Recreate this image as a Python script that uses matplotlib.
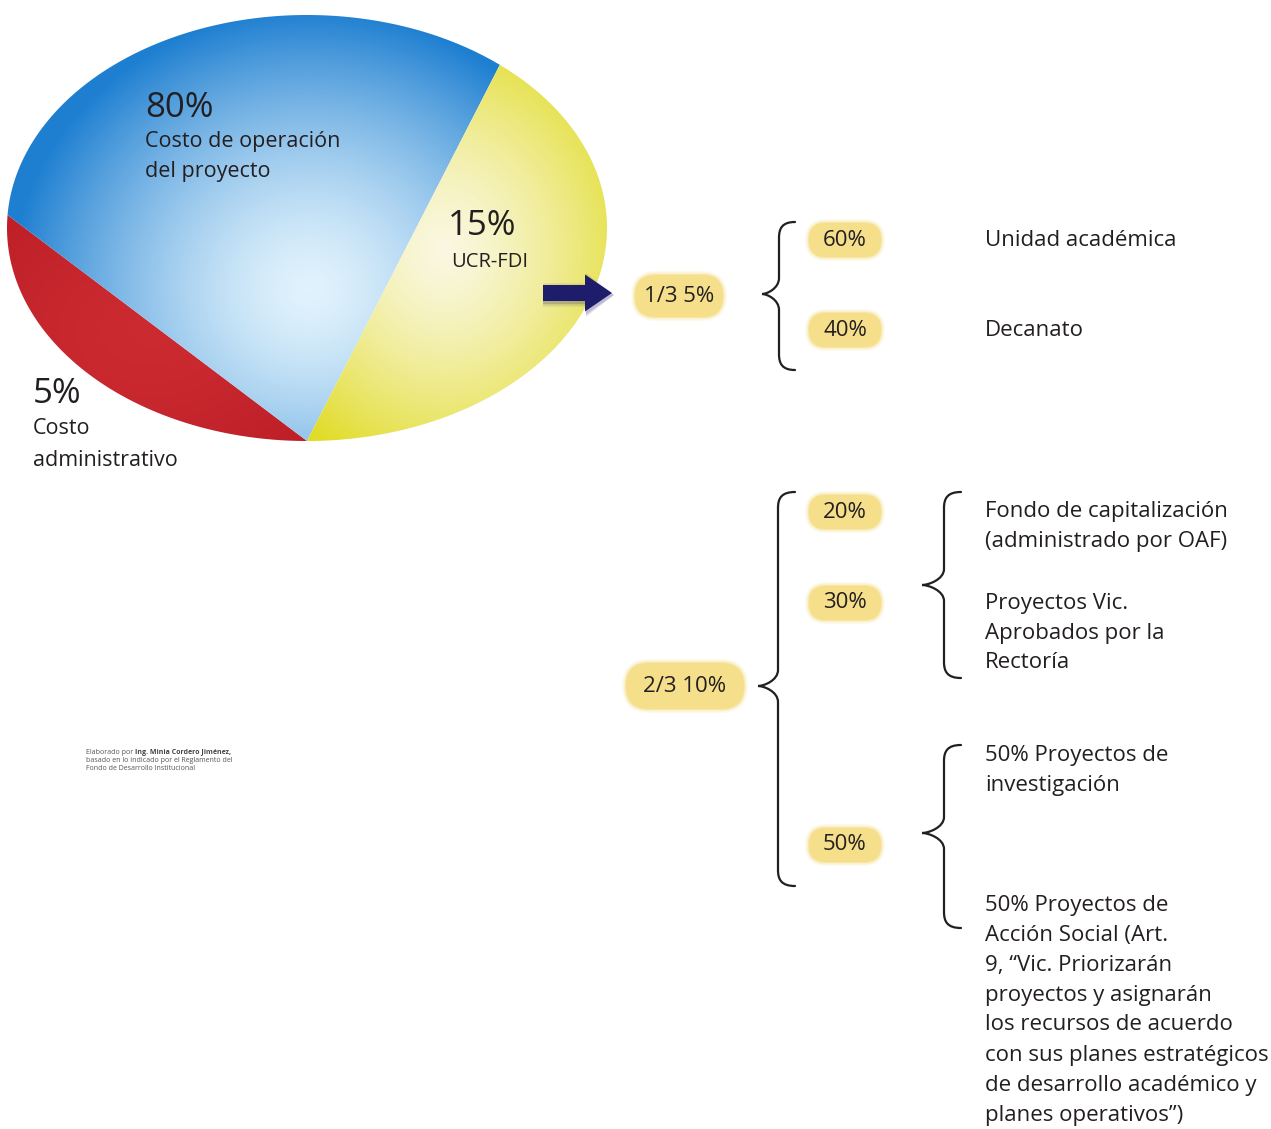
import numpy as np
import matplotlib
matplotlib.use('Agg')
import matplotlib.pyplot as plt
from matplotlib.patches import Polygon, FancyBboxPatch, FancyArrow, PathPatch
from matplotlib.path import Path

# ---------------- data ----------------
pie_values = [5, 80, 15]
pie_pct_labels = ['5%', '80%', '15%']
pie_names = [['Costo', 'administrativo'],
             ['Costo de operación', 'del proyecto'],
             ['UCR-FDI']]
branch_labels = ['1/3 5%', '2/3 10%']
sub1_pcts = ['60%', '40%']
sub1_names = [['Unidad académica'], ['Decanato']]
sub2_pcts = ['20%', '30%', '50%']
sub2a_names = [['Fondo de capitalización', '(administrado por OAF)'],
               ['Proyectos Vic.', 'Aprobados por la', 'Rectoría']]
sub2b_names = [['50% Proyectos de', 'investigación'],
               ['50% Proyectos de', 'Acción Social (Art.', '9, “Vic. Priorizarán',
                'proyectos y asignarán', 'los recursos de acuerdo',
                'con sus planes estratégicos', 'de desarrollo académico y',
                'planes operativos”)']]
note_prefix = 'Elaborado por '
note_author = 'Ing. Minia Cordero Jiménez,'
note_lines = ['basado en lo indicado por el Reglamento del',
              'Fondo de Desarrollo Institucional']

FONT = 'Open Sans'
plt.rcParams['font.family'] = [FONT, 'DejaVu Sans']

W, H = 1271, 1129
fig = plt.figure(figsize=(W / 100, H / 100), dpi=100)
ax = fig.add_axes([0, 0, 1, 1])
ax.set_xlim(0, W)
ax.set_ylim(H, 0)
ax.axis('off')
fig.patch.set_facecolor('white')

# ---------------- pie (elliptical, slices meet at bottom) ----------------
cx, cy, ea, eb = 307, 228, 300, 213
slice_angles = [(176.5, 270.0), (50.0, 176.5), (-90.0, 50.0)]
vertex = (cx, cy + eb)

def ell(t):
    t = np.radians(t)
    return cx + ea * np.cos(t), cy - eb * np.sin(t)

X, Y = np.meshgrid(np.arange(cx - ea, cx + ea + 1, 1.0),
                   np.arange(cy - eb, cy + eb + 1, 1.0))

def grad(hx, hy, sx, sy, light, dark, p):
    d = np.sqrt(((X - hx) / sx) ** 2 + ((Y - hy) / sy) ** 2)
    s = np.clip(d, 0, 1) ** p
    light = np.array(light)
    dark = np.array(dark)
    return light[None, None, :] * (1 - s[..., None]) + dark[None, None, :] * s[..., None]

slice_imgs = [
    grad(150, 330, 300, 220, (0.80, 0.17, 0.19), (0.72, 0.10, 0.14), 1.2),
    grad(310, 290, 300, 280, (0.88, 0.95, 0.99), (0.12, 0.50, 0.82), 1.5),
    grad(445, 250, 210, 240, (0.98, 0.97, 0.88), (0.88, 0.86, 0.14), 1.4),
]

for (t0, t1), img in zip(slice_angles, slice_imgs):
    ts = np.linspace(t0, t1, 200)
    pts = [ell(t) for t in ts]
    verts = [vertex] + pts
    poly = Polygon(verts, closed=True, facecolor='none', edgecolor='none',
                   transform=ax.transData)
    ax.add_patch(poly)
    im = ax.imshow(img, extent=(cx - ea, cx + ea, cy + eb, cy - eb),
                   origin='upper', interpolation='bilinear', zorder=1)
    im.set_clip_path(poly)

ax.set_xlim(0, W)
ax.set_ylim(H, 0)

txt = dict(color='#231f20', ha='left', va='center')
ax.text(145, 108, pie_pct_labels[1], fontsize=25, **txt)
ax.text(145, 142, pie_names[1][0], fontsize=15.5, **txt)
ax.text(145, 172, pie_names[1][1], fontsize=15.5, **txt)
ax.text(448, 226, pie_pct_labels[2], fontsize=25, **txt)
ax.text(490, 262, pie_names[2][0], fontsize=14.5, color='#231f20', ha='center', va='center')
ax.text(33, 394, pie_pct_labels[0], fontsize=25, **txt)
ax.text(33, 428, pie_names[0][0], fontsize=15.5, **txt)
ax.text(33, 460, pie_names[0][1], fontsize=15.5, **txt)

# arrow with soft shadow
for k, al in [(8, 0.06), (5, 0.10), (2, 0.16)]:
    ax.add_patch(FancyArrow(543, 295, 71, 0, width=16 + k, head_width=37 + k,
                            head_length=28, length_includes_head=True,
                            color='#1d1d6b', alpha=al, lw=0, zorder=3))
ax.add_patch(FancyArrow(543, 293, 69, 0, width=16, head_width=37, head_length=27,
                        length_includes_head=True, color='#1d1d6b', lw=0, zorder=4))

# ---------------- badges ----------------
def badge(x, y, w, h, label):
    for grow, al in [(8, 0.15), (5, 0.3), (2, 0.6), (0, 1.0)]:
        ax.add_patch(FancyBboxPatch((x - w / 2 - grow / 2, y - h / 2 - grow / 2),
                                    w + grow, h + grow,
                                    boxstyle='round,pad=0,rounding_size=%f' % ((h + grow) / 2),
                                    facecolor='#f6df8a', edgecolor='none', alpha=al, zorder=3))
    ax.text(x, y, label, fontsize=16, color='#231f20', ha='center', va='center', zorder=5)

badge(679, 296, 88, 42, branch_labels[0])
badge(685, 686, 118, 46, branch_labels[1])
for yy, lab in zip([240, 330], sub1_pcts):
    badge(845, yy, 72, 34, lab)
for yy, lab in zip([512, 603, 845], sub2_pcts):
    badge(845, yy, 72, 34, lab)

# ---------------- braces ----------------
def brace(xt, xs, xe, ytop, ytip, ybot, r=16, lw=1.6):
    verts = [(xe, ytop), (xs + (xe - xs) * 0.2, ytop), (xs, ytop + r * 0.4), (xs, ytop + r),
             (xs, ytip - r),
             (xs, ytip - r * 0.35), (xt + (xs - xt) * 0.3, ytip), (xt, ytip),
             (xt + (xs - xt) * 0.3, ytip), (xs, ytip + r * 0.35), (xs, ytip + r),
             (xs, ybot - r),
             (xs, ybot - r * 0.4), (xs + (xe - xs) * 0.2, ybot), (xe, ybot)]
    C, L, M = Path.CURVE4, Path.LINETO, Path.MOVETO
    codes = [M, C, C, C, L, C, C, C, C, C, C, L, C, C, C]
    ax.add_patch(PathPatch(Path(verts, codes), facecolor='none', edgecolor='#231f20',
                           lw=lw, capstyle='round', zorder=4))

brace(762, 779, 795, 222, 294, 370)
brace(758, 778, 795, 492, 686, 886)
brace(922, 944, 961, 492, 585, 678)
brace(922, 944, 961, 745, 833, 928)

# ---------------- right texts ----------------
LS = 30
def lines(x, y0, lst, fs=16):
    for i, s in enumerate(lst):
        ax.text(x, y0 + i * LS, s, fontsize=fs, **txt)

lines(985, 240, sub1_names[0])
lines(985, 330, sub1_names[1])
lines(985, 512, sub2a_names[0])
lines(985, 603, sub2a_names[1])
lines(985, 755, sub2b_names[0])
lines(985, 905, sub2b_names[1])

# small note
t1 = ax.text(86, 752, note_prefix, fontsize=5.0, color='#555555', ha='left', va='center')
ax.annotate(note_author, xy=(1, 0.5), xycoords=t1, fontsize=5.0, color='#444444',
            fontweight='bold', ha='left', va='center')
for i, s in enumerate(note_lines):
    ax.text(86, 760 + i * 8, s, fontsize=5.0, color='#555555', ha='left', va='center')

fig.savefig('out.png', dpi=100, facecolor='white')
